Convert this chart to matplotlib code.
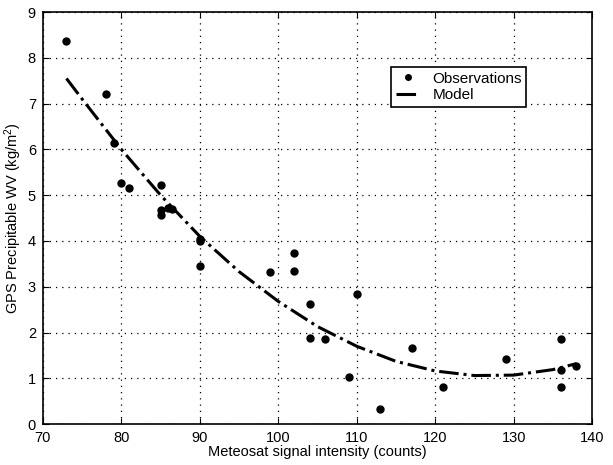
import numpy as np
import matplotlib
matplotlib.use('Agg')
import matplotlib.pyplot as plt

plt.rcParams['font.family'] = ['Liberation Sans', 'DejaVu Sans']
plt.rcParams['mathtext.fontset'] = 'custom'
plt.rcParams['mathtext.rm'] = 'Liberation Sans'
plt.rcParams['mathtext.it'] = 'Liberation Sans:italic'

# observations
obs_x = [73, 78, 79, 80, 81, 85, 85, 85, 86, 86.4, 90, 90, 90, 99, 102, 102,
         104, 104, 106, 109, 110, 113, 117, 121, 129, 136, 136, 136, 138]
obs_y = [8.37, 7.2, 6.13, 5.26, 5.16, 5.22, 4.67, 4.57, 4.73, 4.69, 4.05, 4.0, 3.45,
         3.33, 3.74, 3.35, 2.62, 1.88, 1.85, 1.02, 2.85, 0.32, 1.67, 0.81, 1.43,
         1.85, 1.18, 0.81, 1.27]

# model curve
model_x = [73, 75, 80, 85, 90, 95, 100, 105, 110, 115, 120, 125, 130, 135, 138]
model_y = [7.55, 7.1, 6.0, 5.0, 4.1, 3.33, 2.68, 2.13, 1.7, 1.37, 1.16, 1.06,
           1.07, 1.19, 1.32]

fig = plt.figure(figsize=(6.13, 4.65), dpi=100)
ax = fig.add_axes([0.070, 0.088, 0.896, 0.886])

ax.plot(obs_x, obs_y, 'ko', ms=5, ls='none', label='Observations')
ax.plot(model_x, model_y, color='k', ls='-.', lw=2.2, label='Model')

ax.set_xlim(70, 140)
ax.set_ylim(0, 9)
ax.set_xticks(np.arange(70, 141, 10))
ax.set_yticks(np.arange(0, 10, 1))
ax.grid(True, color='k', ls=(0, (1, 4)), lw=0.9)
ax.tick_params(direction='in', top=True, right=True, labelsize=10.5, length=4)
ax.tick_params(axis='x', pad=5)
ax.tick_params(axis='y', pad=5)
for s in ax.spines.values():
    s.set_linewidth(1.2)

ax.set_xlabel('Meteosat signal intensity (counts)', fontsize=10.5, labelpad=0)
ax.set_ylabel('GPS Precipitable WV (kg/m$^2$)', fontsize=10.5, labelpad=3)

leg = ax.legend(loc='upper left', bbox_to_anchor=(0.62, 0.885), fontsize=11,
                fancybox=False, edgecolor='k', framealpha=1, numpoints=1,
                markerscale=0.8, handlelength=1.6, handletextpad=0.8,
                borderpad=0.3, labelspacing=0.15)
leg.get_frame().set_linewidth(1.2)

fig.savefig('out.png', dpi=100)
